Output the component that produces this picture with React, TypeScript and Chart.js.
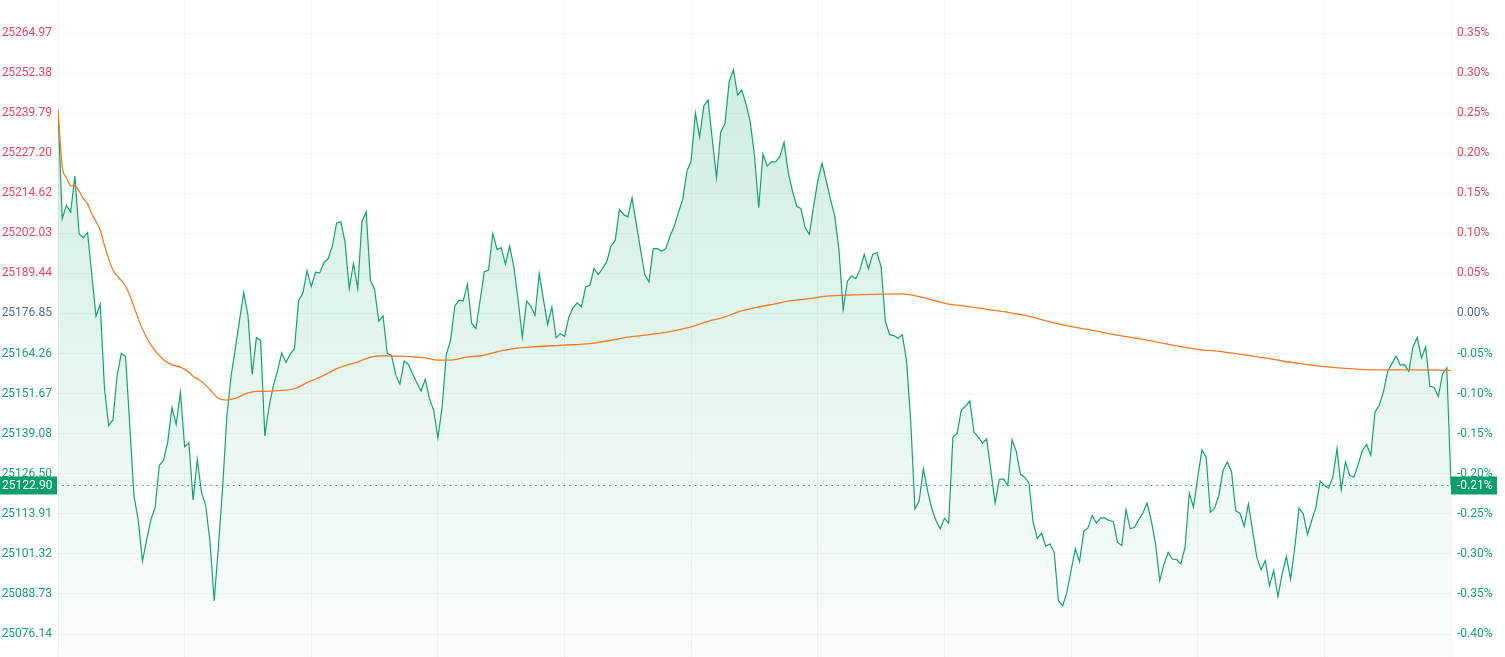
import React, { useEffect, useRef } from "react";
import { Chart, registerables } from "chart.js";

Chart.register(...registerables);

// One price per minute index (0..330)
const prices: number[] = [
  25241.0, 25206.6, 25210.8, 25208.7, 25220.0, 25201.8, 25200.7, 25202.3, 25189.1, 25176.0,
  25179.8, 25153.5, 25141.6, 25143.4, 25157.2, 25164.3, 25163.3, 25141.8, 25119.5, 25112.1,
  25099.0, 25105.7, 25112.1, 25115.8, 25129.1, 25130.7, 25136.5, 25147.3, 25142.0, 25152.1,
  25135.0, 25136.2, 25118.3, 25130.9, 25120.6, 25116.5, 25105.2, 25086.6, 25103.6, 25122.2,
  25144.5, 25157.2, 25165.7, 25174.7, 25183.5, 25176.3, 25157.7, 25169.2, 25168.4, 25138.4,
  25147.6, 25154.0, 25158.8, 25164.5, 25161.5, 25164.1, 25165.7, 25180.9, 25183.2, 25190.3,
  25185.3, 25189.8, 25189.6, 25192.8, 25194.1, 25198.1, 25205.3, 25205.7, 25199.3, 25184.7,
  25192.6, 25184.7, 25205.7, 25208.8, 25187.3, 25184.4, 25174.4, 25176.1, 25164.3, 25163.7,
  25157.7, 25154.6, 25161.9, 25160.9, 25157.9, 25155.1, 25152.5, 25156.2, 25150.1, 25146.4,
  25137.8, 25147.5, 25164.0, 25168.5, 25179.2, 25181.0, 25180.8, 25186.0, 25173.7, 25172.1,
  25181.0, 25190.0, 25190.5, 25202.0, 25197.0, 25197.5, 25192.4, 25198.0, 25191.5, 25181.0,
  25169.3, 25180.8, 25179.2, 25176.3, 25189.4, 25181.2, 25173.4, 25178.9, 25169.2, 25170.5,
  25169.7, 25175.6, 25178.6, 25180.2, 25178.9, 25185.2, 25185.8, 25191.0, 25189.1, 25191.0,
  25193.1, 25198.0, 25199.8, 25209.5, 25207.9, 25207.2, 25213.2, 25204.9, 25197.0, 25189.1,
  25186.8, 25197.2, 25197.2, 25196.4, 25197.3, 25201.2, 25204.3, 25208.7, 25212.7, 25221.6,
  25224.8, 25239.8, 25232.3, 25242.1, 25243.9, 25231.6, 25219.5, 25233.9, 25236.5, 25249.7,
  25253.4, 25245.5, 25247.0, 25242.6, 25236.9, 25226.4, 25210.1, 25226.9, 25223.2, 25224.5,
  25224.5, 25226.2, 25230.6, 25221.1, 25215.3, 25210.6, 25209.8, 25203.8, 25201.7, 25210.6,
  25218.5, 25224.1, 25218.5, 25212.7, 25207.5, 25197.0, 25178.1, 25187.0, 25188.6, 25187.8,
  25190.7, 25195.4, 25190.9, 25195.4, 25196.0, 25191.5, 25174.4, 25170.2, 25169.9, 25169.0,
  25170.2, 25162.2, 25143.3, 25115.5, 25117.9, 25128.1, 25121.2, 25115.5, 25111.8, 25109.2,
  25112.5, 25111.0, 25138.0, 25139.1, 25146.6, 25147.7, 25149.4, 25139.6, 25138.0, 25136.1,
  25137.5, 25127.5, 25117.3, 25124.7, 25124.9, 25122.8, 25137.2, 25133.6, 25126.3, 25125.4,
  25123.7, 25111.3, 25106.2, 25107.8, 25103.7, 25104.5, 25101.8, 25086.6, 25085.0, 25089.2,
  25096.1, 25102.9, 25098.9, 25108.4, 25109.5, 25113.4, 25111.0, 25112.6, 25112.6, 25111.8,
  25111.5, 25105.0, 25103.9, 25115.2, 25109.2, 25109.7, 25112.0, 25114.1, 25117.3, 25111.8,
  25104.5, 25092.9, 25098.1, 25101.8, 25099.7, 25099.5, 25098.2, 25103.4, 25120.4, 25116.0,
  25125.4, 25134.0, 25131.7, 25114.4, 25115.7, 25119.7, 25127.5, 25130.2, 25127.2, 25114.9,
  25114.1, 25110.0, 25117.0, 25108.6, 25100.3, 25096.3, 25099.2, 25091.3, 25096.1, 25087.9,
  25095.0, 25100.5, 25093.4, 25103.4, 25115.7, 25113.9, 25107.4, 25111.8, 25116.0, 25124.2,
  25122.8, 25122.0, 25125.4, 25134.4, 25121.5, 25130.2, 25126.0, 25125.4, 25129.4, 25133.8,
  25135.7, 25132.3, 25145.9, 25148.0, 25152.2, 25158.7, 25161.1, 25163.5, 25160.6, 25160.8,
  25158.7, 25166.4, 25169.3, 25162.9, 25166.4, 25154.0, 25153.6, 25150.8, 25157.9, 25159.8,
  25122.9,
];

// Average line, read at selected minute indices
const avgIdx: number[] = [
  0, 1, 2, 3, 4, 6, 7, 8, 10, 11, 13, 16, 17, 19, 20, 22, 25, 27, 29, 31, 32, 34, 36, 38, 40,
  42, 45, 47, 49, 52, 56, 59, 63, 66, 68, 71, 73, 76, 78, 82, 87, 90, 93, 97, 100, 104, 108,
  113, 120, 126, 130, 134, 138, 144, 149, 154, 158, 161, 165, 170, 173, 178, 182, 187, 195,
  199, 202, 205, 208, 211, 214, 219, 224, 230, 235, 239, 246, 252, 258, 264, 270, 276, 282,
  288, 293, 299, 306, 312, 320, 330,
];
const avgVals: number[] = [
  25241.0, 25223.0, 25219.5, 25217.0, 25216.9, 25213.0, 25211.3, 25208.2, 25203.0, 25198.3,
  25190.6, 25185.5, 25182.5, 25175.3, 25172.0, 25167.0, 25162.3, 25160.7, 25160.0, 25158.4,
  25157.1, 25155.5, 25152.9, 25150.2, 25149.6, 25150.2, 25151.9, 25152.4, 25152.4, 25152.6,
  25153.2, 25155.1, 25157.4, 25159.5, 25160.5, 25161.6, 25162.7, 25163.5, 25163.5, 25163.4,
  25162.9, 25162.2, 25162.2, 25163.2, 25163.5, 25164.8, 25165.8, 25166.4, 25166.9, 25167.4,
  25168.2, 25169.2, 25169.9, 25170.9, 25172.3, 25174.4, 25175.8, 25177.3, 25178.6, 25179.9,
  25180.7, 25181.5, 25182.3, 25182.6, 25182.9, 25183.0, 25182.7, 25181.8, 25180.8, 25179.8,
  25179.3, 25178.4, 25177.4, 25176.0, 25174.2, 25173.0, 25171.3, 25169.8, 25168.5, 25166.9,
  25165.6, 25164.8, 25163.7, 25162.4, 25161.3, 25160.3, 25159.5, 25159.1, 25159.1, 25159.0,
];

const priceTicks: number[] = [
  25264.97, 25252.38, 25239.79, 25227.2, 25214.62, 25202.03, 25189.44, 25176.85,
  25164.26, 25151.67, 25139.08, 25126.5, 25113.91, 25101.32, 25088.73, 25076.14,
];
const pctTicks: number[] = [
  0.35, 0.3, 0.25, 0.2, 0.15, 0.1, 0.05, 0, -0.05, -0.1, -0.15, -0.2, -0.25, -0.3, -0.35, -0.4,
];

const basePrice = 25176.85;
const lastPrice = 25122.9;
const lastPctLabel = "-0.21%";
const yMin = 25068.92;
const yMax = 25275.34;

const RED = "#F0405F";
const GREEN = "#14A277";
const GRAY = "#5B6A88";
const LINE_GREEN = "#12A373";
const BOX_GREEN = "#0B9F6C";
const ORANGE = "#F57A22";
const GRID = "rgba(0,0,0,0.045)";

const lastPricePlugin = {
  id: "lastPrice",
  afterDraw(chart: any) {
    const { ctx, chartArea, scales } = chart;
    const y = Math.round(scales.y.getPixelForValue(lastPrice)) + 0.5;
    ctx.save();
    ctx.strokeStyle = LINE_GREEN;
    ctx.lineWidth = 1.2;
    ctx.setLineDash([1.5, 4.2]);
    ctx.beginPath();
    ctx.moveTo(chartArea.left + 4, y);
    ctx.lineTo(chartArea.right, y);
    ctx.stroke();
    ctx.setLineDash([]);
    const h = 18;
    ctx.fillStyle = BOX_GREEN;
    ctx.fillRect(0, y - h / 2, chartArea.left - 1, h);
    ctx.fillRect(chartArea.right, y - h / 2, 46, h);
    ctx.fillStyle = "#ffffff";
    ctx.font = "12px Roboto";
    ctx.textBaseline = "middle";
    ctx.textAlign = "left";
    ctx.fillText(lastPrice.toFixed(2), 2, y + 0.5);
    ctx.fillText(lastPctLabel, chartArea.right + 6, y + 0.5);
    ctx.restore();
  },
};

function tickColor(v: number) {
  if (Math.abs(v - basePrice) < 0.005 || Math.abs(v) < 1e-6) return GRAY;
  return v > (v > 1000 ? basePrice : 0) ? RED : GREEN;
}

const noPad = (s: any) => {
  s.paddingTop = 0;
  s.paddingBottom = 0;
};

export default function App() {
  const ref = useRef<HTMLCanvasElement | null>(null);

  useEffect(() => {
    document.body.style.margin = "0";
    const canvas = ref.current;
    if (!canvas) return;
    const chart = new Chart(canvas, {
      type: "line",
      data: {
        datasets: [
          {
            label: "avg",
            data: avgIdx.map((x, i) => ({ x, y: avgVals[i] })),
            borderColor: ORANGE,
            borderWidth: 1.3,
            pointRadius: 0,
            fill: false,
            cubicInterpolationMode: "monotone",
            order: 0,
          },
          {
            label: "price",
            data: prices.map((v, i) => ({ x: i, y: v })),
            borderColor: LINE_GREEN,
            borderWidth: 1.2,
            pointRadius: 0,
            tension: 0,
            fill: "start",
            backgroundColor: (c: any) => {
              const area = c.chart.chartArea;
              if (!area) return "rgba(18,163,115,0.1)";
              const g = c.chart.ctx.createLinearGradient(0, area.top, 0, area.bottom);
              g.addColorStop(0, "rgba(18,163,115,0.22)");
              g.addColorStop(1, "rgba(18,163,115,0.02)");
              return g;
            },
            order: 1,
          },
        ],
      },
      options: {
        responsive: false,
        animation: false,
        events: [],
        layout: { padding: 0 },
        plugins: { legend: { display: false }, tooltip: { enabled: false } },
        scales: {
          x: {
            type: "linear",
            min: 0,
            max: 330,
            ticks: { display: false, stepSize: 30 },
            grid: { color: GRID, drawTicks: false },
            border: { display: false },
            afterFit: (s: any) => {
              s.height = 0;
              s.paddingLeft = 0;
              s.paddingRight = 0;
            },
          },
          y: {
            position: "left",
            min: yMin,
            max: yMax,
            afterBuildTicks: (s: any) => {
              s.ticks = priceTicks.map((v) => ({ value: v }));
            },
            afterFit: (s: any) => {
              s.width = 58;
              noPad(s);
            },
            ticks: {
              padding: 6,
              font: { family: "Roboto", size: 12 },
              color: (c: any) => tickColor(c.tick.value),
              callback: (v: any) => Number(v).toFixed(2),
            },
            grid: { color: GRID, drawTicks: false },
            border: { display: false },
          },
          y1: {
            position: "right",
            min: (yMin / basePrice - 1) * 100,
            max: (yMax / basePrice - 1) * 100,
            afterBuildTicks: (s: any) => {
              s.ticks = pctTicks.map((v) => ({ value: v }));
            },
            afterFit: (s: any) => {
              s.width = 54;
              noPad(s);
            },
            ticks: {
              padding: 6,
              font: { family: "Roboto", size: 12 },
              color: (c: any) => tickColor(c.tick.value),
              callback: (v: any) => Number(v).toFixed(2) + "%",
            },
            grid: { display: false, drawTicks: false },
            border: { display: false },
          },
        },
      },
      plugins: [lastPricePlugin],
    } as any);
    return () => chart.destroy();
  }, []);

  return (
    <div style={{ width: 1505, height: 657 }}>
      <canvas ref={ref} width={1505} height={657} style={{ display: "block" }} />
    </div>
  );
}
